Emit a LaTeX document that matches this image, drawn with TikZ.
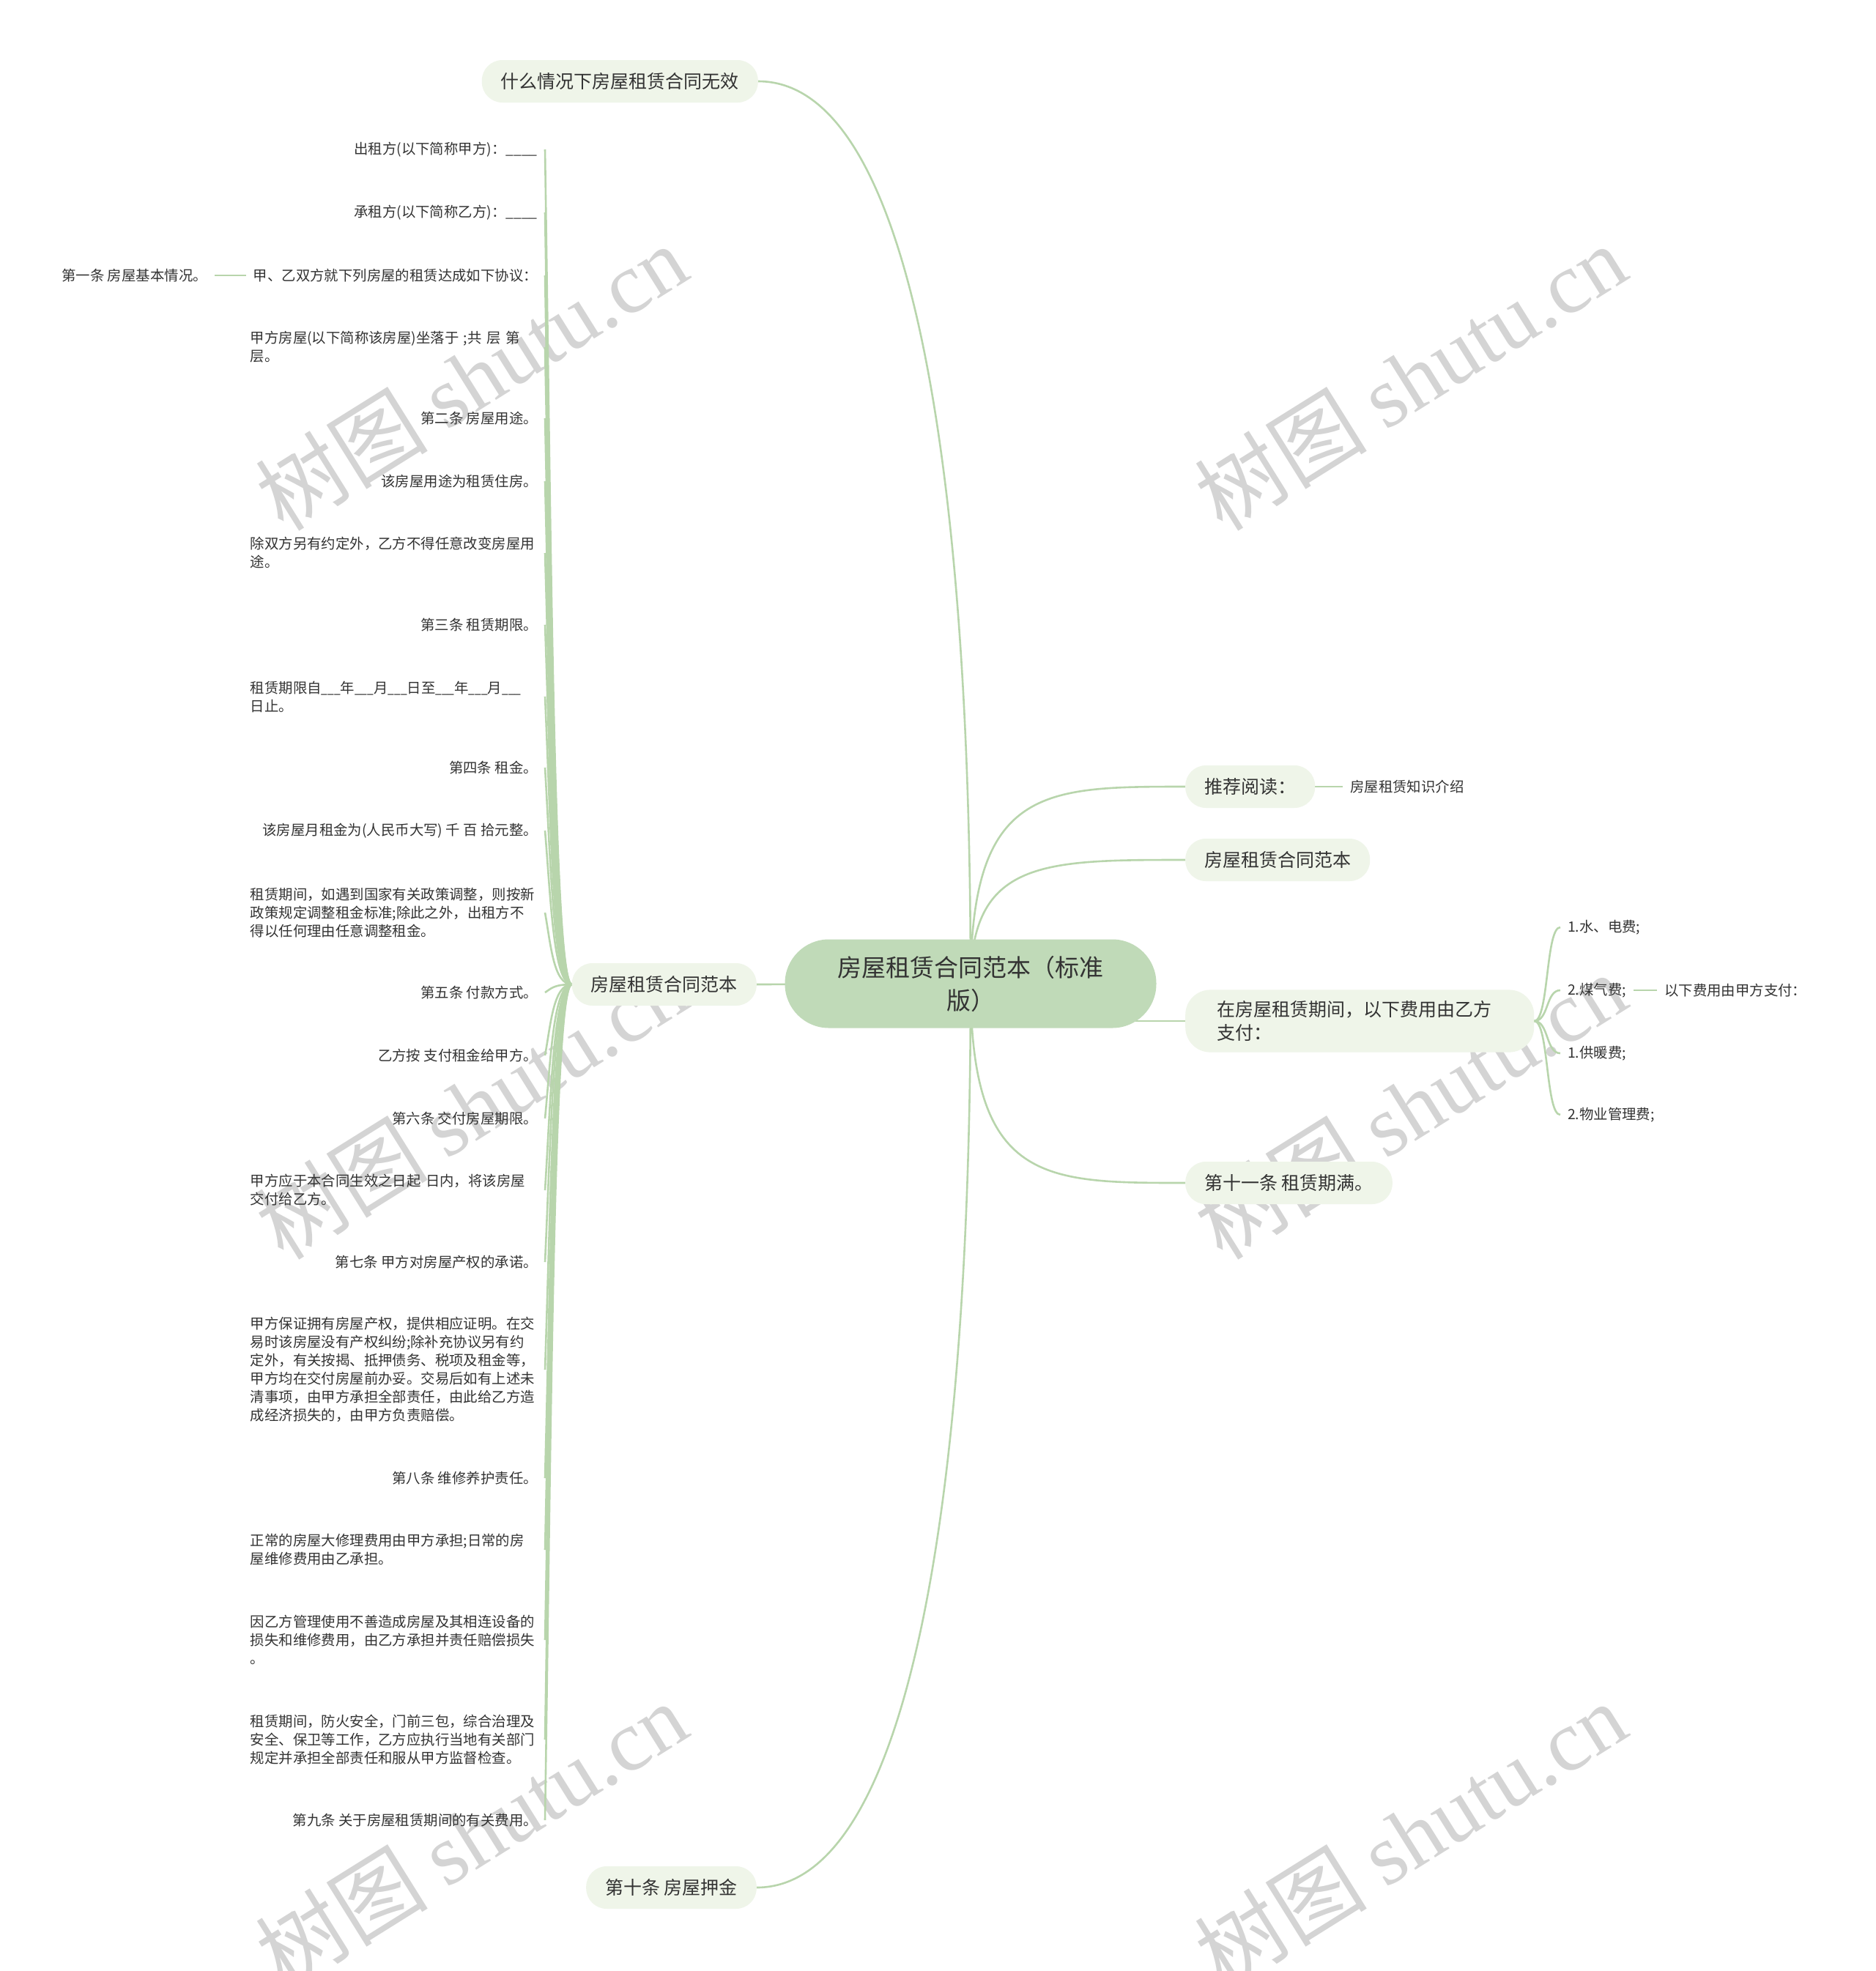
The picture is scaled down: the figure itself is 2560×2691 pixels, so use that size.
\documentclass[tikz,border=0pt]{standalone}
\usepackage{fontspec}
\setmainfont{Noto Sans CJK SC}
\newfontfamily\wmserif{Liberation Serif}
\usetikzlibrary{calc}
\definecolor{linkc}{HTML}{B8D5AC}
\definecolor{pillc}{HTML}{EFF5E9}
\definecolor{rootc}{HTML}{C0DAB8}
\definecolor{txtc}{HTML}{333333}
\definecolor{wmc}{HTML}{D4D4D4}
\pgfdeclarelayer{wmlayer}
\pgfdeclarelayer{bglayer}
\pgfsetlayers{wmlayer,bglayer,main}
\newcommand{\ul}{\scalebox{0.8}[1]{\_\_\_}}
\begin{document}
\begin{tikzpicture}[x=1pt,y=-1pt,
  link/.style={draw=linkc, line width=2.6pt},
  rootbox/.style={fill=rootc, rounded corners=60pt, text=txtc, align=center,
    font=\fontsize{33}{45}\selectfont, minimum width=507pt, minimum height=121pt},
  pill/.style={fill=pillc, rounded corners=28pt, text=txtc,
    font=\fontsize{25}{32}\selectfont, inner xsep=26pt, inner ysep=15pt, minimum height=58pt},
  leaf/.style={text=txtc, font=\fontsize{19.4}{25}\selectfont, inner xsep=10pt, inner ysep=4pt},
  leafm/.style={leaf, text width=392pt, align=left},
  wmark/.style={text=wmc, font=\fontsize{118}{124}\selectfont, rotate=32}
]
\useasboundingbox (0,0) rectangle (2560,2691);
\begin{pgfonlayer}{wmlayer}
  \fill[white] (0,0) rectangle (2560,2691);
  \foreach \i/\x/\y in {1/643/515, 2/1925/515, 3/643/1510, 4/1925/1510, 5/643/2505, 6/1925/2505}
    \node[wmark] (wm\i) at (\x,\y) {树图 {\wmserif shutu.cn}};
\end{pgfonlayer}

% root
\node[rootbox] (root) at (1325,1343) {房屋租赁合同范本（标准\\版）};

% main branches
\node[pill, anchor=east] (b1) at (1035,111) {什么情况下房屋租赁合同无效};
\node[pill, anchor=east] (b2) at (1033,1344) {房屋租赁合同范本};
\node[pill, anchor=east] (b3) at (1033,2577) {第十条 房屋押金};
\node[pill, anchor=west] (r1) at (1618,1074) {推荐阅读：};
\node[pill, anchor=west] (r2) at (1618,1174) {房屋租赁合同范本};
\node[pill, anchor=west, text width=390pt, align=left, inner xsep=43pt, rounded corners=34pt] (r3) at (1618,1394) {在房屋租赁期间，以下费用由乙方\\支付：};
\node[pill, anchor=west] (r4) at (1618,1615) {第十一条 租赁期满。};

% right leaves
\node[leaf, anchor=west] (k1) at (1833,1074) {房屋租赁知识介绍};
\node[leaf, anchor=west] (s1) at (2130,1266) {1.水、电费;};
\node[leaf, anchor=west] (s2) at (2130,1352) {2.煤气费;};
\node[leaf, anchor=west] (s3) at (2130,1438) {1.供暖费;};
\node[leaf, anchor=west] (s4) at (2130,1522) {2.物业管理费;};
\node[leaf, anchor=west] (s5) at (2262,1352) {以下费用由甲方支付：};

% left leaves
\node[leaf, anchor=east] (a1) at (744,204) {出租方(以下简称甲方)：\_\_\_\_};
\node[leaf, anchor=east] (a2) at (744,290) {承租方(以下简称乙方)：\_\_\_\_};
\node[leaf, anchor=east] (a3) at (744,376) {甲、乙双方就下列房屋的租赁达成如下协议：};
\node[leafm, anchor=east] (a4) at (744,474) {甲方房屋(以下简称该房屋)坐落于 ;共 层 第\\层。};
\node[leaf, anchor=east] (a5) at (744,571) {第二条 房屋用途。};
\node[leaf, anchor=east] (a6) at (744,657) {该房屋用途为租赁住房。};
\node[leafm, anchor=east] (a7) at (744,755) {除双方另有约定外，乙方不得任意改变房屋用\\途。};
\node[leaf, anchor=east] (a8) at (744,853) {第三条 租赁期限。};
\node[leafm, anchor=east] (a9) at (744,951) {租赁期限自\ul 年\ul 月\ul 日至\ul 年\ul 月\ul\\日止。};
\node[leaf, anchor=east] (a10) at (744,1048) {第四条 租金。};
\node[leaf, anchor=east] (a11) at (744,1134) {该房屋月租金为(人民币大写) 千 百 拾元整。};
\node[leafm, anchor=east] (a12) at (744,1246) {租赁期间，如遇到国家有关政策调整，则按新\\政策规定调整租金标准;除此之外，出租方不\\得以任何理由任意调整租金。};
\node[leaf, anchor=east] (a13) at (744,1355) {第五条 付款方式。};
\node[leaf, anchor=east] (a14) at (744,1441) {乙方按 支付租金给甲方。};
\node[leaf, anchor=east] (a15) at (744,1527) {第六条 交付房屋期限。};
\node[leafm, anchor=east] (a16) at (744,1625) {甲方应于本合同生效之日起 日内，将该房屋\\交付给乙方。};
\node[leaf, anchor=east] (a17) at (744,1723) {第七条 甲方对房屋产权的承诺。};
\node[leafm, anchor=east] (a18) at (744,1870) {甲方保证拥有房屋产权，提供相应证明。在交\\易时该房屋没有产权纠纷;除补充协议另有约\\定外，有关按揭、抵押债务、税项及租金等，\\甲方均在交付房屋前办妥。交易后如有上述未\\清事项，由甲方承担全部责任，由此给乙方造\\成经济损失的，由甲方负责赔偿。};
\node[leaf, anchor=east] (a19) at (744,2018) {第八条 维修养护责任。};
\node[leafm, anchor=east] (a20) at (744,2116) {正常的房屋大修理费用由甲方承担;日常的房\\屋维修费用由乙承担。};
\node[leafm, anchor=east] (a21) at (744,2239) {因乙方管理使用不善造成房屋及其相连设备的\\损失和维修费用，由乙方承担并责任赔偿损失\\。};
\node[leafm, anchor=east] (a22) at (744,2375) {租赁期间，防火安全，门前三包，综合治理及\\安全、保卫等工作，乙方应执行当地有关部门\\规定并承担全部责任和服从甲方监督检查。};
\node[leaf, anchor=east] (a23) at (744,2485) {第九条 关于房屋租赁期间的有关费用。};
\node[leaf, anchor=east] (f1) at (293,376) {第一条 房屋基本情况。};

\begin{pgfonlayer}{bglayer}
  \draw[link] (root.center) .. controls +(0,-743) and +(200,0) .. (b1.east);
  \draw[link] (root.center) .. controls +(0,743) and +(200,0) .. (b3.east);
  \draw[link] (root.center) -- (b2.east);
  \draw[link] (root.center) .. controls +(0,-269) and +(-194,0) .. (r1.west);
  \draw[link] (root.center) .. controls +(0,-169) and +(-194,0) .. (r2.west);
  \draw[link] (root.center |- r3.west) -- (r3.west);
  \draw[link] (root.center) .. controls +(0,272) and +(-194,0) .. (r4.west);
  \draw[link] (r1.east) -- (k1.west);
  \foreach \n in {s1,s2,s3,s4}
    \draw[link] (r3.east) .. controls +(20,0) and +(-20,0) .. (\n.west);
  \draw[link] (s2.east) -- (s5.west);
  \draw[link] (f1.east) -- (a3.west);
  \foreach \n/\yy in {a1/204, a2/290, a3/376, a4/474, a5/571, a6/657, a7/755, a8/853,
      a9/951, a10/1048, a11/1134, a12/1246, a13/1355, a14/1441, a15/1527, a16/1625,
      a17/1723, a18/1870, a19/2018, a20/2116, a21/2239, a22/2375, a23/2485}
    \draw[link] (b2.west) .. controls +(-25,0) and +(8,{0.45*(1344-\yy)}) .. (\n.east);
\end{pgfonlayer}
\end{tikzpicture}
\end{document}
